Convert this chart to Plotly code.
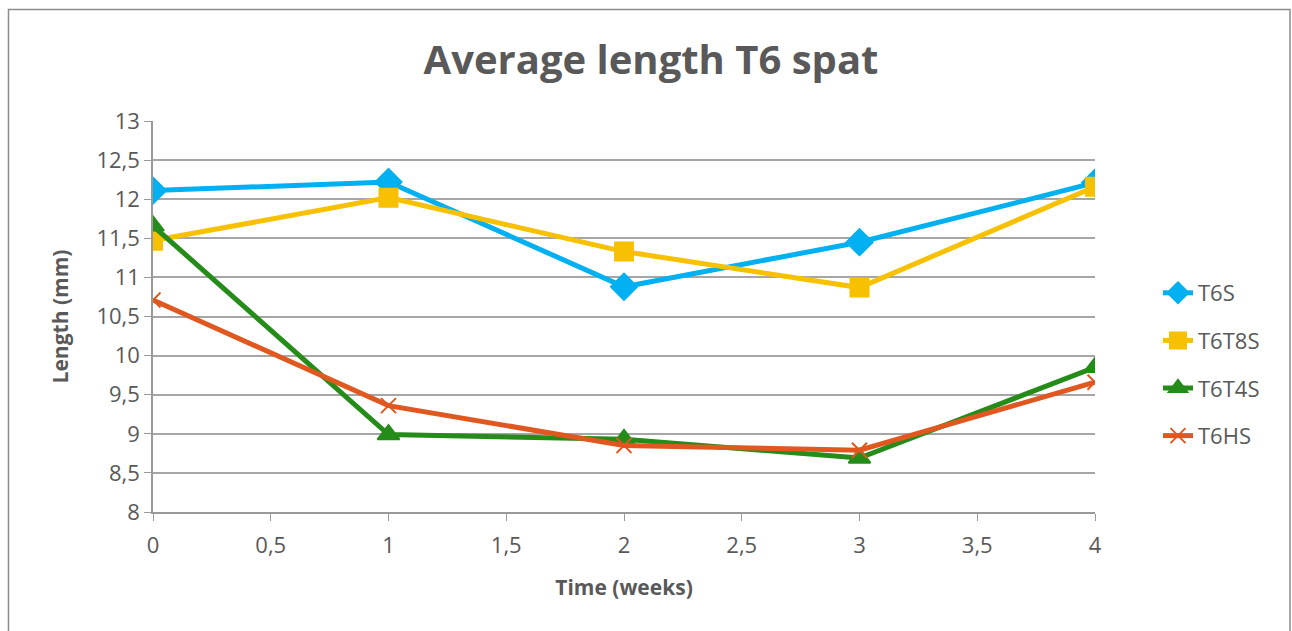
import plotly.graph_objects as go

weeks = [0, 1, 2, 3, 4]
t6s = [12.11, 12.22, 10.88, 11.45, 12.21]
t6t8s = [11.47, 12.02, 11.33, 10.87, 12.16]
t6t4s = [11.66, 8.99, 8.93, 8.69, 9.85]
t6hs = [10.71, 9.36, 8.85, 8.79, 9.66]

series = [
    ("T6S", t6s, "#00B0F0", "diamond", 20),
    ("T6T8S", t6t8s, "#F7C000", "square", 18),
    ("T6T4S", t6t4s, "#258C1A", "triangle-up", 19),
    ("T6HS", t6hs, "#E0581F", "x-thin", 15),
]

fig = go.Figure()
for name, vals, color, sym, size in series:
    fig.add_trace(go.Scatter(
        x=weeks, y=vals, name=name, mode="lines+markers", legendgroup=name,
        line=dict(color=color, width=5),
        marker=dict(symbol=sym, size=size, color=color,
                    line=dict(color=color, width=2)),
    ))

L, R, T, B = 153, 1095, 121, 512
W, H = 1292, 631
pw, ph = R - L, B - T

def px(x):
    return (x - L) / pw

def py(y):
    return (B - y) / ph

fig.add_shape(type="rect", xref="paper", yref="paper",
              x0=px(8.5), x1=px(1290), y0=py(640), y1=py(9.5),
              line=dict(color="#8c8c8c", width=1.5), fillcolor="rgba(0,0,0,0)", layer="below")

font_color = "#595959"
fig.update_layout(
    width=W, height=H,
    margin=dict(l=L, r=W - R, t=T, b=H - B),
    paper_bgcolor="white", plot_bgcolor="white",
    separators=", ",
    font=dict(family="Open Sans", color=font_color, size=22),
    title=dict(text="<b>Average length T6 spat</b>", x=651 / W, xref="container",
               xanchor="center", y=(H - 60) / H, yanchor="middle",
               font=dict(size=40, color=font_color, family="Open Sans")),
    xaxis=dict(range=[0, 4], dtick=0.5, tick0=0, showgrid=False,
               showline=True, linecolor="#999999", linewidth=1.5,
               ticks="outside", ticklen=7, tickcolor="#999999",
               ticklabelstandoff=6,
               zeroline=False, tickfont=dict(size=22, color=font_color),
               title=dict(text="<b>Time (weeks)</b>", standoff=22,
                          font=dict(size=21, color=font_color))),
    yaxis=dict(range=[8, 13], dtick=0.5, tick0=8, showgrid=True,
               gridcolor="#a6a6a6", gridwidth=1.5,
               showline=True, linecolor="#999999", linewidth=1.5,
               ticks="outside", ticklen=7, tickcolor="#999999",
               zeroline=False, tickfont=dict(size=22, color=font_color),
               title=dict(text="<b>Length (mm)</b>", standoff=22,
                          font=dict(size=21, color=font_color))),
    legend=dict(x=px(1158), y=py(272), xanchor="left", yanchor="top",
                font=dict(size=22, color=font_color), tracegroupgap=16,
                itemsizing="trace", bgcolor="rgba(0,0,0,0)"),
    showlegend=True,
)

fig.write_html("out.html")
